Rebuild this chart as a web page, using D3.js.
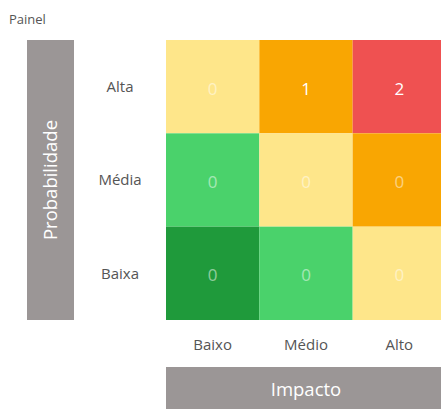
<!DOCTYPE html>
<html>
<head>
<meta charset="utf-8">
<script src="https://cdn.jsdelivr.net/npm/d3@7"></script>
<style>
  body { margin: 0; background: #fff; overflow: hidden; }
  svg { display: block; font-family: "Open Sans", "Noto Sans", sans-serif; }
</style>
</head>
<body>
<svg id="chart" width="441" height="409"></svg>
<script>
// Risk matrix data
const probabilities = ["Alta", "Média", "Baixa"];
const impacts = ["Baixo", "Médio", "Alto"];
const counts = [
  [0, 1, 2],
  [0, 0, 0],
  [0, 0, 0]
];
const levelColors = ["#1f9a3b", "#4ad26b", "#fee68a", "#f9a602", "#ef5151"];

const svg = d3.select("#chart");

const x = d3.scaleBand().domain(impacts).range([166, 446]);
const y = d3.scaleBand().domain(probabilities).range([40, 320]);

// cells
const cells = [];
probabilities.forEach((p, i) => {
  impacts.forEach((im, j) => {
    const level = (probabilities.length - 1 - i) + j;
    cells.push({ p, im, value: counts[i][j], level });
  });
});

const g = svg.append("g");
g.selectAll("rect.cell")
  .data(cells)
  .enter()
  .append("rect")
  .attr("class", "cell")
  .attr("x", d => x(d.im))
  .attr("y", d => y(d.p))
  .attr("width", x.bandwidth())
  .attr("height", y.bandwidth())
  .attr("fill", d => levelColors[d.level]);

g.selectAll("text.val")
  .data(cells)
  .enter()
  .append("text")
  .attr("class", "val")
  .attr("x", d => x(d.im) + x.bandwidth() / 2)
  .attr("y", d => y(d.p) + y.bandwidth() / 2 + 2)
  .attr("dy", "0.35em")
  .attr("text-anchor", "middle")
  .attr("fill", "#fff")
  .attr("fill-opacity", d => d.value === 0 ? 0.5 : 1)
  .style("font-size", "17px")
  .text(d => d.value);

// row labels
svg.selectAll("text.row")
  .data(probabilities)
  .enter()
  .append("text")
  .attr("class", "row")
  .attr("x", 120)
  .attr("y", d => y(d) + y.bandwidth() / 2)
  .attr("dy", "0.35em")
  .attr("text-anchor", "middle")
  .attr("fill", "#555")
  .style("font-size", "15px")
  .text(d => d);

// column labels
svg.selectAll("text.col")
  .data(impacts)
  .enter()
  .append("text")
  .attr("class", "col")
  .attr("x", d => x(d) + x.bandwidth() / 2)
  .attr("y", 345)
  .attr("dy", "0.35em")
  .attr("text-anchor", "middle")
  .attr("fill", "#555")
  .style("font-size", "15px")
  .text(d => d);

// axis title bars
svg.append("rect")
  .attr("x", 27).attr("y", 40)
  .attr("width", 47).attr("height", 280)
  .attr("fill", "#9b9696");
svg.append("text")
  .attr("transform", "translate(51,180) rotate(-90)")
  .attr("dy", "0.35em")
  .attr("text-anchor", "middle")
  .attr("fill", "#fff")
  .style("font-size", "18.5px")
  .text("Probabilidade");

svg.append("rect")
  .attr("x", 166).attr("y", 367)
  .attr("width", 280).attr("height", 45)
  .attr("fill", "#9b9696");
svg.append("text")
  .attr("x", 306).attr("y", 390)
  .attr("dy", "0.35em")
  .attr("text-anchor", "middle")
  .attr("fill", "#fff")
  .style("font-size", "18.5px")
  .text("Impacto");

// title
svg.append("text")
  .attr("x", 9).attr("y", 24)
  .attr("fill", "#555")
  .style("font-size", "13px")
  .text("Painel");
</script>
</body>
</html>
